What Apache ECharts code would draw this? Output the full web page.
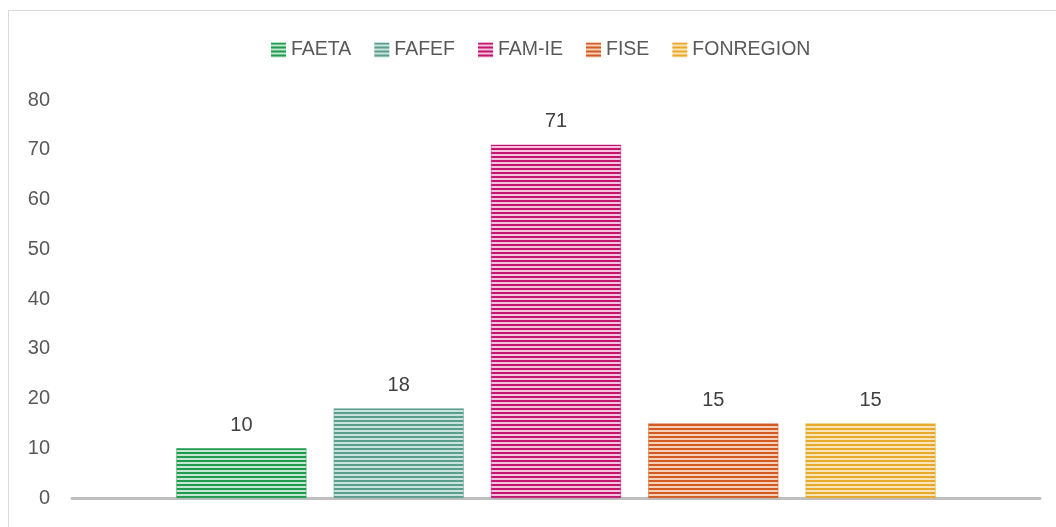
<!DOCTYPE html>
<html>
<head>
<meta charset="utf-8">
<script src="https://cdn.jsdelivr.net/npm/echarts@6/dist/echarts.min.js"></script>
<style>
html,body{margin:0;padding:0;background:#fff;}
#c{width:1056px;height:527px;}
</style>
</head>
<body>
<div id="c"></div>
<script>
var categories = [''];
var seriesNames = ['FAETA', 'FAFEF', 'FAM-IE', 'FISE', 'FONREGION'];
var seriesValues = [10, 18, 71, 15, 15];
var yTicks = [0, 10, 20, 30, 40, 50, 60, 70, 80];
var darkColors = ['#1f9a4f', '#5a9e8e', '#c2166f', '#d35a22', '#e9aa2c'];
var lightColors = ['#c4e8d0', '#cbe3dd', '#f5c3dd', '#f7d0ba', '#fae5b8'];

function stripe(dark, light) {
  var c = document.createElement('canvas');
  c.width = 4; c.height = 4;
  var g = c.getContext('2d');
  g.fillStyle = light; g.fillRect(0, 0, 4, 4);
  g.fillStyle = dark; g.fillRect(0, 0, 4, 2);
  return { image: c, repeat: 'repeat' };
}

var series = seriesNames.map(function (n, i) {
  return {
    name: n,
    type: 'bar',
    data: [seriesValues[i]],
    barWidth: 130,
    barGap: '21%',
    itemStyle: { color: stripe(darkColors[i], lightColors[i]), borderColor: darkColors[i], borderWidth: 0.5 },
    label: {
      show: true, position: 'top', distance: 13,
      color: '#404040', fontSize: 20, fontFamily: 'Liberation Sans'
    }
  };
});

var chart = echarts.init(document.getElementById('c'), null, { renderer: 'canvas' });
chart.setOption({
  animation: false,
  backgroundColor: '#fff',
  graphic: [
    { type: 'line', shape: { x1: 8, y1: 10.5, x2: 1056, y2: 10.5 }, style: { stroke: '#d9d9d9', lineWidth: 1 } },
    { type: 'line', shape: { x1: 8.5, y1: 10, x2: 8.5, y2: 527 }, style: { stroke: '#d9d9d9', lineWidth: 1 } }
  ],
  legend: {
    top: 35, left: 266,
    itemWidth: 15, itemHeight: 15, itemGap: 23,
    icon: 'rect',
    itemStyle: { borderWidth: 0 },
    textStyle: { color: '#595959', fontSize: 19.5, fontFamily: 'Liberation Sans', padding: [0, 0, 0, 0] },
    data: seriesNames
  },
  grid: { left: 72, right: 16, top: 100, bottom: 29, containLabel: false },
  xAxis: {
    type: 'category', data: categories,
    axisLine: { show: true, lineStyle: { color: '#bfbfbf', width: 3 } },
    axisTick: { show: false }, axisLabel: { show: false }
  },
  yAxis: {
    type: 'value', min: yTicks[0], max: yTicks[yTicks.length - 1], interval: 10,
    axisLine: { show: false }, axisTick: { show: false }, splitLine: { show: false },
    axisLabel: { color: '#595959', fontSize: 20, fontFamily: 'Liberation Sans', margin: 22 }
  },
  series: series
});
</script>
</body>
</html>
